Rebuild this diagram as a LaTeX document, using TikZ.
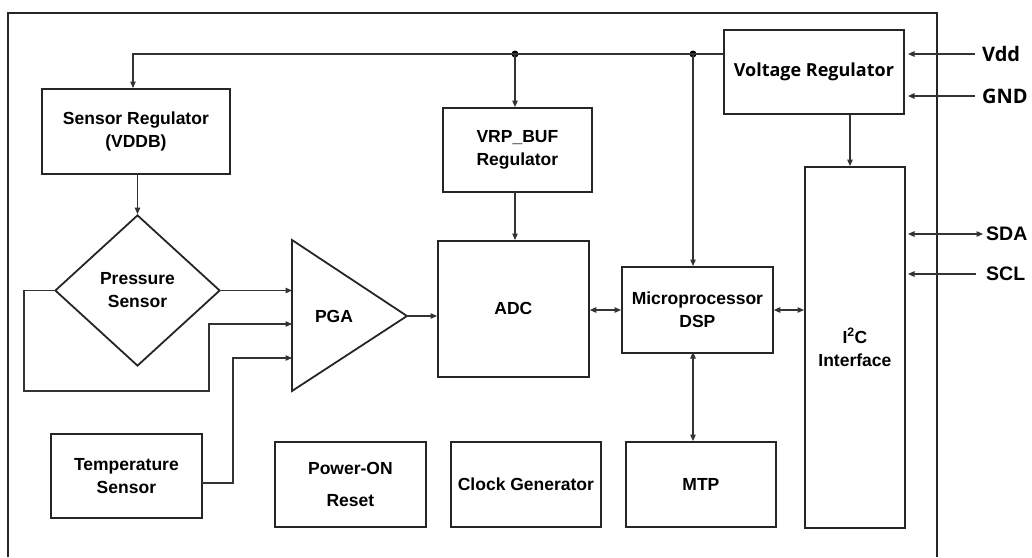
\documentclass[tikz,border=0pt]{standalone}
\usepackage{fontspec}
\setmainfont{Liberation Sans}
\newfontfamily\osans{Open Sans}
\usetikzlibrary{arrows.meta,shapes.geometric}
\begin{document}
\begin{tikzpicture}[x=1pt,y=-1pt,
  lbl/.style={align=center,font=\fontsize{17.5}{23}\selectfont\bfseries},
  blk/.style={lbl,draw=black!85,line width=1.8pt,anchor=north west,inner sep=0pt},
  wire/.style={draw=black!80,line width=1.2pt},
  arr/.style={wire,-{Triangle[length=6.5pt,width=5.5pt]}},
  darr/.style={wire,{Triangle[length=6.5pt,width=5.5pt]}-{Triangle[length=6.5pt,width=5.5pt]}},
  pinA/.style={anchor=west,inner sep=0pt,font=\osans\fontsize{20}{24}\selectfont\bfseries},
  pinB/.style={anchor=west,inner sep=0pt,font=\fontsize{19.5}{22}\selectfont\bfseries},
  dot/.style={circle,fill=black,inner sep=0pt,minimum size=7pt}]
\useasboundingbox (0,0) rectangle (1032,557);
% outer frame
\draw[line width=2.5pt,black!85] (8,557) -- (8,13) -- (937,13) -- (937,557);

% blocks
\node[blk,minimum width=188pt,minimum height=85pt] (sreg) at (41,88) {Sensor Regulator\\(VDDB)};
\node[blk,minimum width=149pt,minimum height=84pt] (vrp) at (442,107) {VRP\_BUF\\Regulator};
\node[blk,minimum width=180pt,minimum height=84pt,font=\osans\fontsize{18}{22}\selectfont\bfseries] (vr) at (723,29) {Voltage Regulator};
\node[blk,minimum width=100pt,minimum height=361pt] (i2c) at (804,166) {I\textsuperscript{2}C\\Interface};
\node[blk,minimum width=151pt,minimum height=136pt] (adc) at (437,240) {ADC};
\node[blk,minimum width=151pt,minimum height=86pt] (mcu) at (621,266) {Microprocessor\\DSP};
\node[blk,minimum width=151pt,minimum height=84pt] (temp) at (50,433) {Temperature\\Sensor};
\node[blk,minimum width=151pt,minimum height=85pt] (por) at (274,441) {Power-ON\\[9pt]Reset};
\node[blk,minimum width=150pt,minimum height=85pt] (clk) at (450,441) {Clock Generator};
\node[blk,minimum width=150pt,minimum height=85pt] (mtp) at (625,441) {MTP};
\node[lbl,draw=black!85,line width=1.8pt,diamond,minimum width=165pt,minimum height=151pt,inner sep=0pt] (ps) at (137.5,290.5) {Pressure\\Sensor};

% PGA triangle
\coordinate (pgaT) at (292,240);
\coordinate (pgaB) at (292,391);
\coordinate (pgaO) at (407,316);
\draw[line width=1.8pt,black!85,line join=miter] (pgaT) -- (pgaO) -- (pgaB) -- cycle;
\node[lbl] (pga) at (334,316) {PGA};
\coordinate (in1) at (292,290.5);
\coordinate (in2) at (292,324);
\coordinate (in3) at (292,358);

% supply bus
\coordinate (busR) at (723,54);
\node[dot] (d1) at (515,54) {};
\node[dot] (d2) at (693,54) {};
\draw[arr] (busR) -- (133,54) -- (133,88);
\draw[arr] (d1.center) -- (d1.center |- vrp.north);
\draw[arr] (d2.center) -- (d2.center |- mcu.north);
\draw[arr] (137.5,173) -- (ps.north);
\draw[arr] (515,191) -- (515,240);
\draw[arr] (vr.south -| 850,0) -- (850,166);

% sensor paths
\draw[arr] (ps.east) -- (in1);
\draw[arr] (ps.west) -- (24,290.5) -- (24,391) -- (209,391) -- (209,324) -- (in2);
\coordinate (tout) at (201,483);
\draw[arr] (tout) -- (233,483) -- (233,358) -- (in3);
\draw[arr] (pgaO) -- (pgaO -| adc.west);

% data paths
\draw[darr] (adc.east |- 0,310) -- (mcu.west |- 0,310);
\draw[darr] (mcu.east |- 0,310) -- (i2c.west |- 0,310);
\draw[darr] (693,352) -- (693,441);

% pins
\node[pinA] (vdd) at (982,54) {Vdd};
\node[pinA] (gnd) at (982,96) {GND};
\node[pinB] (sda) at (986,234) {SDA};
\node[pinB] (scl) at (986,274) {SCL};
\draw[arr] (975,54) -- (908,54);
\draw[arr] (975,96) -- (908,96);
\draw[darr] (908,234) -- (983,234);
\draw[arr] (976,274) -- (908,274);
\end{tikzpicture}
\end{document}
